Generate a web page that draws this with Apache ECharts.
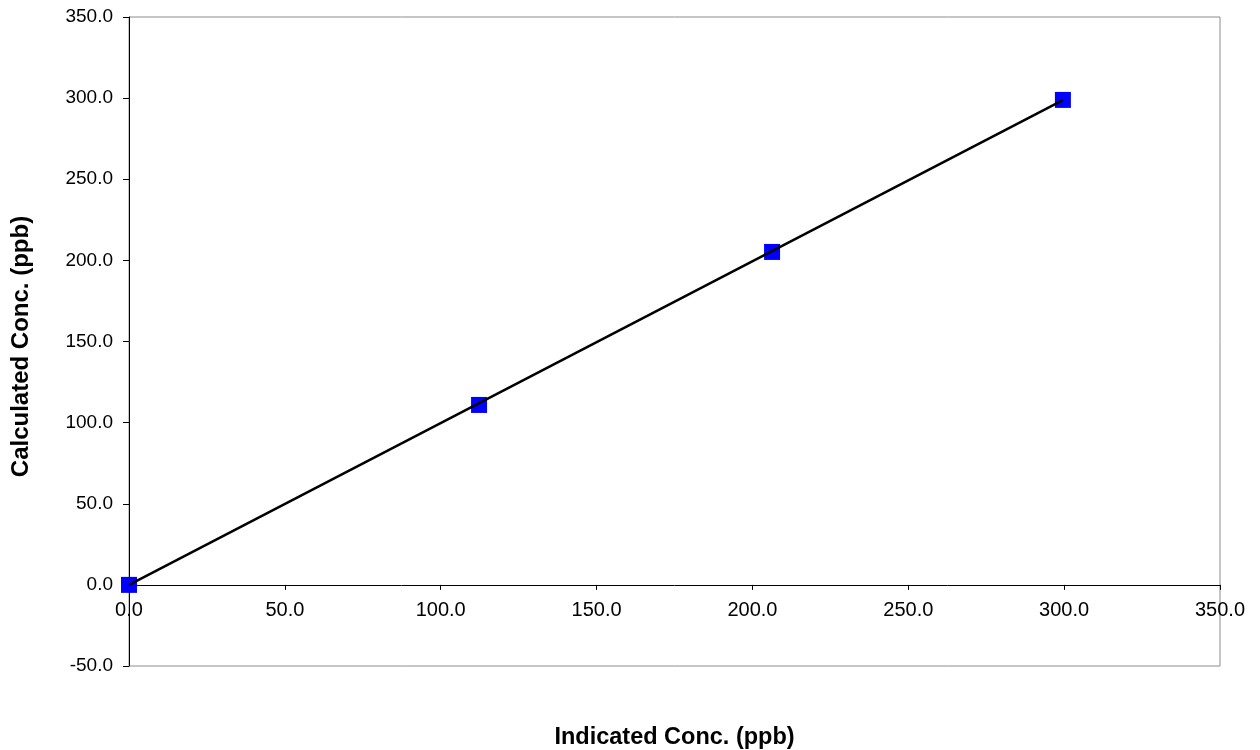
<!DOCTYPE html>
<html>
<head>
<meta charset="utf-8">
<script src="https://cdn.jsdelivr.net/npm/echarts@6/dist/echarts.min.js"></script>
<style>html,body{margin:0;padding:0;background:#fff}#c{width:1260px;height:750px}</style>
</head>
<body>
<div id="c"></div>
<script>
const indicated = [0.0, 112.3, 206.3, 299.6];
const calculated = [0.0, 110.9, 205.2, 298.9];
const trendX = [0.0, 299.6];
const trendY = [0.0, 298.8];
const xTitle = 'Indicated Conc. (ppb)';
const yTitle = 'Calculated Conc. (ppb)';

const gridTop = 17, gridBottom = 84, H = 750;
const yMin = -50, yMax = 350;
const plotH = H - gridTop - gridBottom;
const zeroOffset = -plotH * (0 - yMin) / (yMax - yMin);

const chart = echarts.init(document.getElementById('c'));
const font = 'Liberation Sans, Arial, sans-serif';
chart.setOption({
  animation: false,
  grid: {left: 129, right: 40, top: gridTop, bottom: gridBottom, containLabel: false, outerBoundsMode: 'none',
         show: true, borderColor: '#8c8c8c', borderWidth: 1, backgroundColor: '#fff'},
  xAxis: {
    type: 'value', min: 0, max: 350, interval: 50,
    offset: zeroOffset,
    name: xTitle, nameLocation: 'middle', nameGap: 141,
    nameTextStyle: {fontFamily: font, fontSize: 23.5, fontWeight: 'bold', color: '#000'},
    axisLine: {onZero: false, lineStyle: {color: '#000', width: 1}},
    axisTick: {show: true, inside: false, length: 5, lineStyle: {color: '#000'}},
    axisLabel: {fontFamily: font, fontSize: 20, color: '#000', margin: 16, formatter: v => v.toFixed(1)},
    splitLine: {show: false}
  },
  yAxis: {
    type: 'value', min: yMin, max: yMax, interval: 50,
    name: yTitle, nameLocation: 'middle', nameGap: 96, nameRotate: 90,
    nameTextStyle: {fontFamily: font, fontSize: 24, fontWeight: 'bold', color: '#000', padding: [0, 10, 0, 0]},
    axisLine: {show: true, lineStyle: {color: '#000', width: 1}},
    axisTick: {show: true, length: 6, lineStyle: {color: '#000'}},
    axisLabel: {fontFamily: font, fontSize: 19, color: '#000', margin: 16, formatter: v => v.toFixed(1)},
    splitLine: {show: false}
  },
  series: [
    {
      type: 'scatter', symbol: 'rect', symbolSize: 16,
      itemStyle: {color: '#0000ff', opacity: 1},
      data: indicated.map((x, i) => [x, calculated[i]]), z: 2
    },
    {
      type: 'line', symbol: 'none', lineStyle: {color: '#000', width: 2.5},
      data: trendX.map((x, i) => [x, trendY[i]]), z: 3
    }
  ]
});
</script>
</body>
</html>
